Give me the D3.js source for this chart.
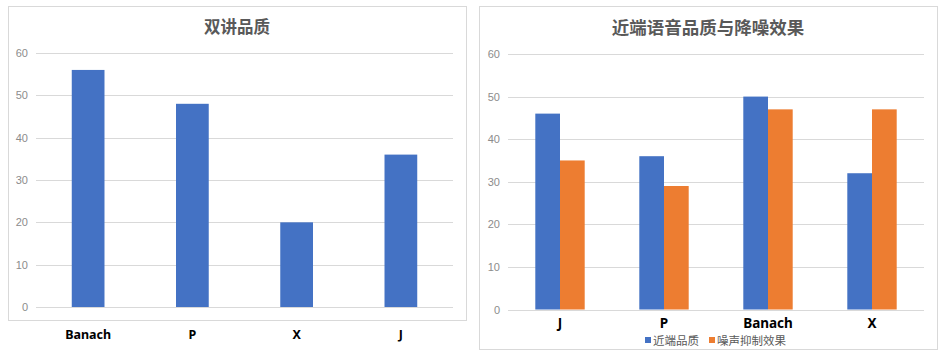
<!DOCTYPE html>
<html><head><meta charset="utf-8">
<script src="https://cdn.jsdelivr.net/npm/d3@7"></script>
<style>body{margin:0;background:#fff;} svg{display:block;}</style>
</head><body>
<svg id="c" width="950" height="360"></svg>
<script>
// Left chart data
const leftTitle = "双讲品质";
const leftCategories = ["Banach", "P", "X", "J"];
const leftValues = [56, 48, 20, 36];

// Right chart data
const rightTitle = "近端语音品质与降噪效果";
const rightCategories = ["J", "P", "Banach", "X"];
const nearEndQuality = [46, 36, 50, 32];
const noiseSuppression = [35, 29, 47, 47];
const seriesNames = ["近端品质", "噪声抑制效果"];
const seriesColors = ["#4472C4", "#ED7D31"];

const yTicks = [0, 10, 20, 30, 40, 50, 60];

const svg = d3.select("#c");
const cjk = "'Noto Sans CJK SC', 'Noto Sans', sans-serif";

function frame(x0, y0, x1, y1) {
  svg.append("rect").attr("x", x0 + 0.5).attr("y", y0 + 0.5)
    .attr("width", x1 - x0).attr("height", y1 - y0)
    .attr("fill", "#fff").attr("stroke", "#d9d9d9").attr("stroke-width", 1);
}

function yAxis(y, xl, xr, labelX) {
  const g = svg.append("g");
  g.selectAll("line").data(yTicks).join("line")
    .attr("x1", xl).attr("x2", xr)
    .attr("y1", d => Math.round(y(d)) + 0.5).attr("y2", d => Math.round(y(d)) + 0.5)
    .attr("stroke", "#d9d9d9").attr("stroke-width", 1);
  g.selectAll("text").data(yTicks).join("text")
    .attr("x", labelX).attr("y", d => y(d) + 4)
    .attr("text-anchor", "end").attr("font-family", "'Liberation Sans', Arial, sans-serif")
    .attr("font-size", 11).attr("fill", "#8c8c8c").text(d => d);
}

// ---------- Left chart ----------
frame(8, 6, 466, 320);
svg.append("text").attr("x", 237).attr("y", 33).attr("text-anchor", "middle")
  .attr("font-family", cjk).attr("font-size", 16.5).attr("font-weight", 700)
  .attr("fill", "#595959").text(leftTitle);

const yL = d3.scaleLinear().domain([0, 60]).range([307, 53]);
const xL = d3.scaleBand().domain(leftCategories).range([36, 453]).paddingInner(0.686).paddingOuter(0.343);
yAxis(yL, 36, 453, 28);
svg.append("g").selectAll("rect").data(leftCategories.map((c, i) => ({c, v: leftValues[i]}))).join("rect")
  .attr("x", d => xL(d.c)).attr("width", xL.bandwidth())
  .attr("y", d => yL(d.v)).attr("height", d => yL(0) - yL(d.v))
  .attr("fill", seriesColors[0]);
svg.append("g").selectAll("text").data(leftCategories).join("text")
  .attr("x", d => xL(d) + xL.bandwidth() / 2).attr("y", 339)
  .attr("text-anchor", "middle").attr("font-family", "'Noto Sans', sans-serif")
  .attr("font-size", 12.5).attr("font-weight", 700).attr("fill", "#000").text(d => d);

// ---------- Right chart ----------
frame(479, 6, 937, 349);
svg.append("text").attr("x", 708).attr("y", 34).attr("text-anchor", "middle")
  .attr("font-family", cjk).attr("font-size", 17.5).attr("font-weight", 700)
  .attr("fill", "#595959").text(rightTitle);

const yR = d3.scaleLinear().domain([0, 60]).range([309.5, 54]);
const xR = d3.scaleBand().domain(rightCategories).range([508, 924]).paddingInner(0.525).paddingOuter(0.2625);
const xS = d3.scaleBand().domain([0, 1]).range([0, xR.bandwidth()]);
yAxis(yR, 508, 924, 500);
const rows = rightCategories.map((c, i) => ({c, vals: [nearEndQuality[i], noiseSuppression[i]]}));
svg.append("g").selectAll("g").data(rows).join("g")
  .attr("transform", d => `translate(${xR(d.c)},0)`)
  .selectAll("rect").data(d => d.vals.map((v, s) => ({v, s}))).join("rect")
  .attr("x", d => xS(d.s)).attr("width", xS.bandwidth())
  .attr("y", d => yR(d.v)).attr("height", d => yR(0) - yR(d.v))
  .attr("fill", d => seriesColors[d.s]);
svg.append("g").selectAll("text").data(rightCategories).join("text")
  .attr("x", d => xR(d) + xR.bandwidth() / 2).attr("y", 328)
  .attr("text-anchor", "middle").attr("font-family", "'Noto Sans', sans-serif")
  .attr("font-size", 13.5).attr("font-weight", 700).attr("fill", "#000").text(d => d);

// legend
const legX = [645, 709];
seriesNames.forEach((n, i) => {
  svg.append("rect").attr("x", legX[i]).attr("y", 337).attr("width", 6).attr("height", 6).attr("fill", seriesColors[i]);
  svg.append("text").attr("x", legX[i] + 8).attr("y", 344.5)
    .attr("font-family", cjk).attr("font-size", 11.5).attr("fill", "#595959").text(n);
});
</script>
</body></html>
